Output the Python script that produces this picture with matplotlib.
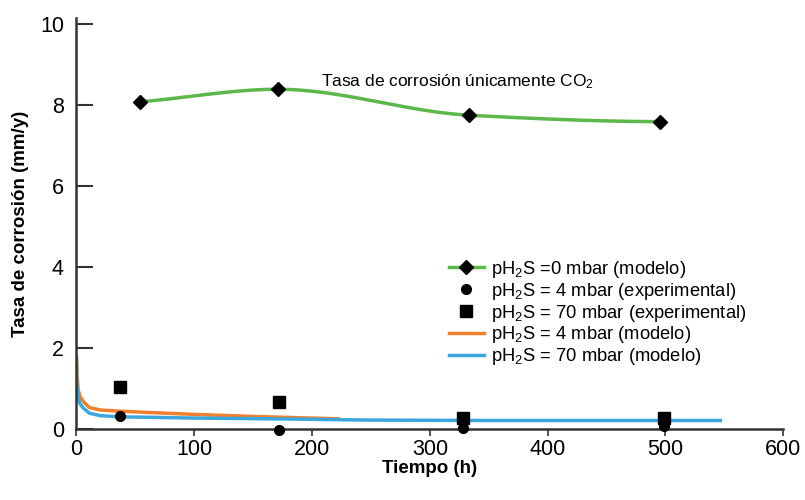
import numpy as np
import matplotlib
matplotlib.use("Agg")
import matplotlib.pyplot as plt
from matplotlib.lines import Line2D
from matplotlib import font_manager

plt.rcParams['font.family'] = ['Liberation Sans', 'DejaVu Sans']
plt.rcParams['mathtext.default'] = 'regular'

# --- data ---
co2_time = [54, 171, 333, 495]
co2_rate = [8.08, 8.39, 7.75, 7.59]

exp4_time = [37, 172, 328, 499]
exp4_rate = [0.32, -0.02, 0.02, 0.08]

exp70_time = [37, 172, 328, 499]
exp70_rate = [1.03, 0.66, 0.26, 0.26]

mod4_time = [0, 0.5, 1.5, 3, 6, 11, 20, 37, 60, 100, 150, 224]
mod4_rate = [1.85, 1.35, 0.96, 0.80, 0.67, 0.53, 0.47, 0.44, 0.41, 0.36, 0.31, 0.25]

mod70_time = [0, 0.3, 1.5, 3, 6, 11, 20, 37, 60, 100, 170, 250, 350, 450, 548]
mod70_rate = [1.74, 1.04, 0.76, 0.62, 0.51, 0.39, 0.33, 0.30, 0.29, 0.27, 0.25, 0.22, 0.21, 0.21, 0.21]

x_ticks = [0, 100, 200, 300, 400, 500, 600]
y_ticks = [0, 2, 4, 6, 8, 10]


def pchip(x, y, n=300):
    x = np.asarray(x, float); y = np.asarray(y, float)
    h = np.diff(x); d = np.diff(y) / h
    k = len(x); m = np.zeros(k)
    for i in range(1, k - 1):
        if d[i - 1] * d[i] > 0:
            w1 = 2 * h[i] + h[i - 1]; w2 = h[i] + 2 * h[i - 1]
            m[i] = (w1 + w2) / (w1 / d[i - 1] + w2 / d[i])
    m[0] = d[0] * 0.9
    m[-1] = d[-1] * 0.1
    xs = np.linspace(x[0], x[-1], n)
    idx = np.clip(np.searchsorted(x, xs) - 1, 0, k - 2)
    t = (xs - x[idx]) / h[idx]
    h00 = 2 * t**3 - 3 * t**2 + 1; h10 = t**3 - 2 * t**2 + t
    h01 = -2 * t**3 + 3 * t**2; h11 = t**3 - t**2
    ys = h00 * y[idx] + h10 * h[idx] * m[idx] + h01 * y[idx + 1] + h11 * h[idx] * m[idx + 1]
    return xs, ys


green = '#5cb84a'
orange = '#f07f2e'
blue = '#3aa7de'
axcol = '#333333'

names = {f.name for f in font_manager.fontManager.ttflist}
narrow = 'Liberation Sans Narrow' if 'Liberation Sans Narrow' in names else 'Liberation Sans'

fig = plt.figure(figsize=(8.05, 5.00), dpi=100)
ax = fig.add_axes([0.095, 0.142, 0.878, 0.822])

gx, gy = pchip(co2_time, co2_rate)
ax.plot(gx, gy, color=green, lw=2.5, zorder=2)
ax.plot(co2_time, co2_rate, 'D', color='black', ms=7, zorder=3, clip_on=False)

ax.plot(mod4_time, mod4_rate, color=orange, lw=2.5, zorder=2, solid_capstyle='butt')
ax.plot(mod70_time, mod70_rate, color=blue, lw=2.5, zorder=2, solid_capstyle='butt')

ax.plot(exp70_time, exp70_rate, 's', color='black', ms=9, zorder=4, clip_on=False)
ax.plot(exp4_time, exp4_rate, 'o', color='black', ms=7, zorder=4, clip_on=False)

ax.set_xlim(0, 600)
ax.set_ylim(0, 10.15)
ax.set_xticks(x_ticks)
ax.set_yticks(y_ticks)
ax.tick_params(axis='x', direction='out', length=5, width=1.2, colors=axcol,
               labelcolor='black', labelsize=15.5, pad=2)
ax.tick_params(axis='y', direction='in', length=12, width=1.5, colors=axcol,
               labelcolor='black', labelsize=15.5, pad=9)
for s in ['top', 'right']:
    ax.spines[s].set_visible(False)
for s in ['left', 'bottom']:
    ax.spines[s].set_color(axcol)
    ax.spines[s].set_linewidth(1.8)

ax.set_xlabel('Tiempo (h)', fontsize=13.5, fontweight='bold', labelpad=0)
ax.set_ylabel('Tasa de corrosión (mm/y)', fontsize=13.5, fontweight='bold',
              labelpad=8, family=[narrow, 'DejaVu Sans'])

ax.text(208, 8.59, 'Tasa de corrosión únicamente CO$_2$', fontsize=12.5, ha='left', va='center')

handles = [
    Line2D([], [], color=green, lw=2.5, marker='D', mfc='black', mec='black', ms=7),
    Line2D([], [], ls='none', marker='o', color='black', ms=7),
    Line2D([], [], ls='none', marker='s', color='black', ms=9),
    Line2D([], [], color=orange, lw=2.5),
    Line2D([], [], color=blue, lw=2.5),
]
labels = [
    'pH$_2$S =0 mbar (modelo)',
    'pH$_2$S = 4 mbar (experimental)',
    'pH$_2$S = 70 mbar (experimental)',
    'pH$_2$S = 4 mbar (modelo)',
    'pH$_2$S = 70 mbar (modelo)',
]
fig.legend(handles, labels, loc='upper left', bbox_to_anchor=(0.546, 0.501),
           frameon=False, fontsize=13.2, handlelength=1.9, handletextpad=0.4,
           labelspacing=0.05, borderpad=0)

fig.savefig('out.png', dpi=100)
